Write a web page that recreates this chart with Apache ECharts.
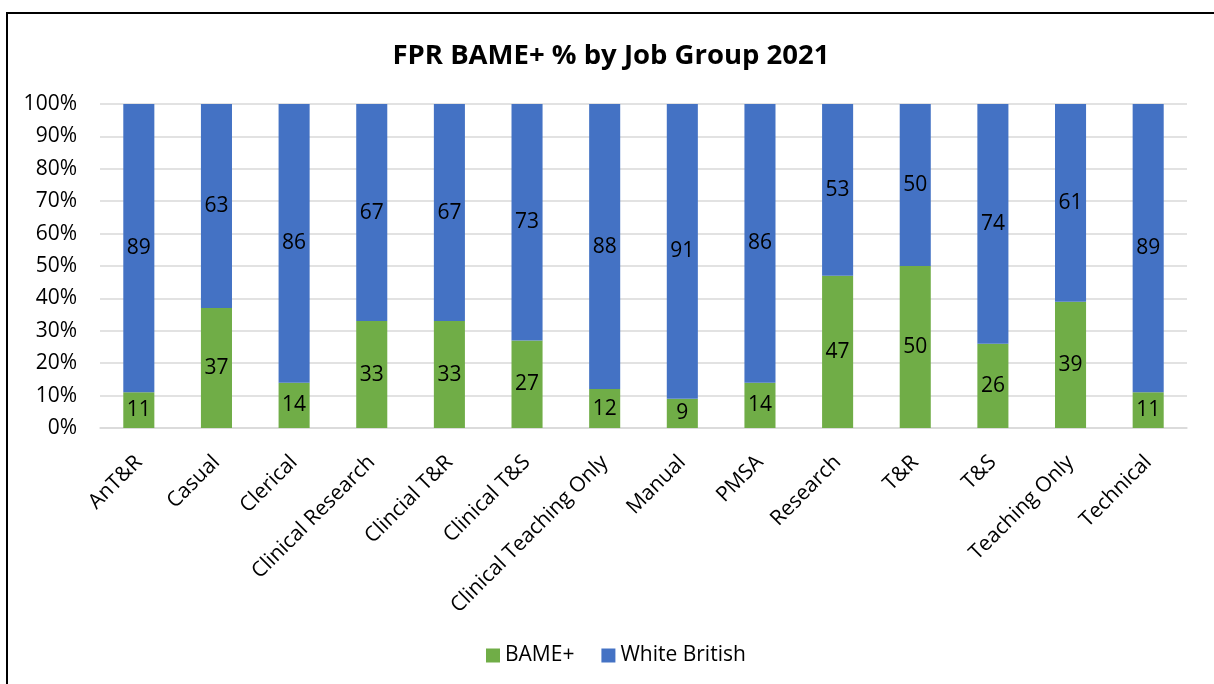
<!DOCTYPE html>
<html>
<head>
<meta charset="utf-8">
<title>FPR BAME+ % by Job Group 2021</title>
<script src="https://cdn.jsdelivr.net/npm/echarts@6/dist/echarts.min.js"></script>
<style>
  html, body { margin: 0; padding: 0; background: #ffffff; }
  #chart { width: 1214px; height: 684px; }
</style>
</head>
<body>
<div id="chart"></div>
<script>
// Job groups along the x axis
const jobGroups = ['AnT&R', 'Casual', 'Clerical', 'Clinical Research', 'Clincial T&R', 'Clinical T&S',
  'Clinical Teaching Only', 'Manual', 'PMSA', 'Research', 'T&R', 'T&S', 'Teaching Only', 'Technical'];

// Percentage shares per job group
const bameValues = [11, 37, 14, 33, 33, 27, 12, 9, 14, 47, 50, 26, 39, 11];
const whiteBritishValues = [89, 63, 86, 67, 67, 73, 88, 91, 86, 53, 50, 74, 61, 89];

// Y axis ticks (percent)
const yTicks = [0, 10, 20, 30, 40, 50, 60, 70, 80, 90, 100];

const FONT = '"Open Sans", Lato, sans-serif';
const TEXT_SIZE = 21;

const chart = echarts.init(document.getElementById('chart'), null, { renderer: 'canvas' });

chart.setOption({
  backgroundColor: '#ffffff',
  animation: false,
  title: {
    text: 'FPR BAME+ % by Job Group 2021',
    left: 606,
    top: 37,
    textAlign: 'center',
    textStyle: { fontFamily: FONT, fontSize: 27.5, fontWeight: 'bold', color: '#000000' }
  },
  legend: {
    data: ['BAME+', 'White British'],
    left: 486,
    top: 645,
    padding: 0,
    icon: 'rect',
    itemWidth: 14,
    itemHeight: 14,
    itemGap: 27,
    itemStyle: { borderWidth: 0 },
    textStyle: { fontFamily: FONT, fontSize: TEXT_SIZE, color: '#000000' }
  },
  graphic: [{
    type: 'rect',
    shape: { x: 7, y: 13, width: 1400, height: 900 },
    style: { fill: 'none', stroke: '#000000', lineWidth: 2 },
    silent: true
  }],
  grid: { left: 100, right: 27, top: 104, bottom: 256, containLabel: false },
  xAxis: {
    type: 'category',
    data: jobGroups,
    axisLine: { show: true, lineStyle: { color: '#d9d9d9', width: 1.5 } },
    axisTick: { show: false },
    axisLabel: {
      interval: 0,
      rotate: 45,
      margin: 31,
      fontFamily: FONT,
      fontSize: TEXT_SIZE,
      color: '#000000'
    }
  },
  yAxis: {
    type: 'value',
    min: yTicks[0],
    max: yTicks[yTicks.length - 1],
    interval: yTicks[1] - yTicks[0],
    axisLine: { show: false },
    axisTick: { show: false },
    splitLine: { lineStyle: { color: '#d9d9d9', width: 1.5 } },
    axisLabel: {
      formatter: v => v + '%',
      margin: 23,
      fontFamily: FONT,
      fontSize: TEXT_SIZE,
      color: '#000000'
    }
  },
  series: [
    {
      name: 'BAME+',
      type: 'bar',
      stack: 'share',
      data: bameValues,
      barWidth: '40%',
      itemStyle: { color: '#70ad47' },
      label: { show: true, position: 'inside', fontFamily: FONT, fontSize: TEXT_SIZE, color: '#000000' }
    },
    {
      name: 'White British',
      type: 'bar',
      stack: 'share',
      data: whiteBritishValues,
      barWidth: '40%',
      itemStyle: { color: '#4472c4' },
      label: { show: true, position: 'inside', fontFamily: FONT, fontSize: TEXT_SIZE, color: '#000000' }
    }
  ]
});
</script>
</body>
</html>
